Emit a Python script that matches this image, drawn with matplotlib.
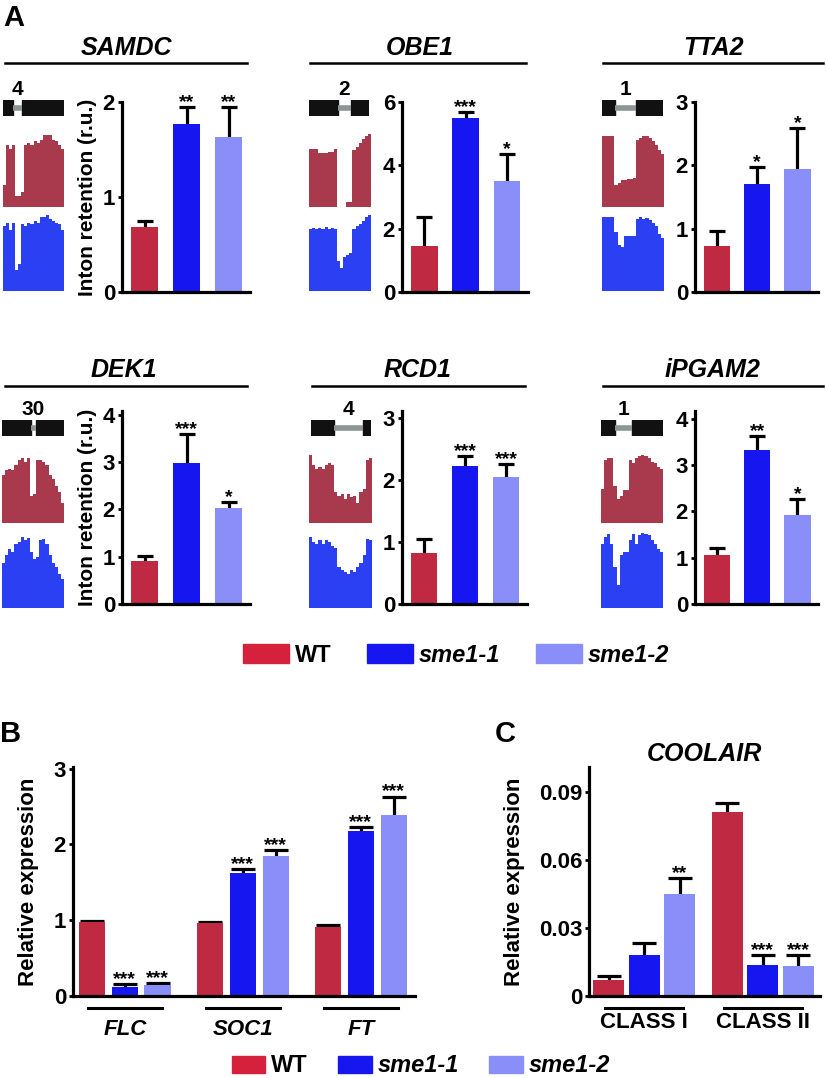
import numpy as np
import matplotlib
matplotlib.use('Agg')
from matplotlib import pyplot as plt
from matplotlib.patches import Patch, Rectangle
from matplotlib.lines import Line2D

plt.rcParams['font.family'] = ['Liberation Sans', 'DejaVu Sans']
plt.rcParams['font.weight'] = 'bold'

# ---- panel A data ----
genes_A = ['SAMDC', 'OBE1', 'TTA2', 'DEK1', 'RCD1', 'iPGAM2']
wt_A = [0.68, 1.45, 0.72, 0.91, 0.82, 1.06]
wt_A_err = [0.07, 0.91, 0.24, 0.11, 0.23, 0.16]
sme11_A = [1.77, 5.49, 1.70, 2.98, 2.23, 3.33]
sme11_A_err = [0.18, 0.19, 0.27, 0.62, 0.15, 0.29]
sme12_A = [1.63, 3.51, 1.95, 2.02, 2.05, 1.93]
sme12_A_err = [0.32, 0.86, 0.64, 0.13, 0.20, 0.33]
stars_A = [['', '**', '**'], ['', '***', '*'], ['', '*', '*'],
           ['', '***', '*'], ['', '***', '***'], ['', '**', '*']]
yticks_A = [[0, 1, 2], [0, 2, 4, 6], [0, 1, 2, 3],
            [0, 1, 2, 3, 4], [0, 1, 2, 3], [0, 1, 2, 3, 4]]
ytop_A = [2.0, 6.0, 3.0, 4.08, 3.11, 4.17]

# intron number and exon layout of the gene models (fraction of model width)
intron_no = ['4', '2', '1', '30', '4', '1']
exon1_end = [0.16, 0.48, 0.21, 0.47, 0.38, 0.23]
exon2_start = [0.31, 0.70, 0.56, 0.55, 0.87, 0.50]

# RNA-seq coverage profiles (relative height, 20 bins)
cov_wt = [
    [0.30, 0.85, 0.80, 0.85, 0.15, 0.15, 0.20, 0.85, 0.88, 0.85, 0.90, 0.88, 0.92, 0.98, 0.98, 0.98, 0.92, 0.90, 0.85, 0.80],
    [0.80, 0.80, 0.80, 0.74, 0.74, 0.74, 0.75, 0.76, 0.80, 0.00, 0.00, 0.00, 0.07, 0.07, 0.78, 0.82, 0.88, 0.93, 0.97, 1.00],
    [0.97, 0.97, 0.97, 0.97, 0.30, 0.33, 0.37, 0.37, 0.38, 0.38, 0.40, 0.92, 0.95, 0.97, 0.97, 0.95, 0.90, 0.85, 0.78, 0.73],
    [0.70, 0.78, 0.80, 0.78, 0.85, 0.92, 0.95, 0.90, 0.95, 0.40, 0.42, 0.92, 0.93, 0.90, 0.85, 0.70, 0.65, 0.55, 0.45, 0.30],
    [1.00, 0.85, 0.80, 0.82, 0.80, 0.85, 0.88, 0.85, 0.45, 0.40, 0.42, 0.35, 0.42, 0.38, 0.40, 0.30, 0.45, 0.50, 0.92, 0.95],
    [0.50, 0.92, 0.95, 0.95, 0.55, 0.35, 0.40, 0.48, 0.48, 0.92, 0.88, 0.95, 0.98, 1.00, 0.98, 0.95, 0.90, 0.88, 0.82, 0.80],
]
cov_mut = [
    [0.85, 0.90, 0.80, 0.90, 0.27, 0.35, 0.88, 0.85, 0.90, 0.88, 0.92, 0.90, 0.98, 0.98, 1.00, 0.95, 0.92, 0.90, 0.88, 0.80],
    [0.82, 0.83, 0.82, 0.83, 0.82, 0.84, 0.82, 0.83, 0.82, 0.40, 0.30, 0.45, 0.48, 0.50, 0.82, 0.85, 0.88, 0.92, 0.98, 1.00],
    [0.97, 0.98, 0.98, 0.97, 0.78, 0.60, 0.58, 0.72, 0.72, 0.72, 0.72, 0.95, 0.97, 0.95, 0.96, 0.93, 0.90, 0.85, 0.75, 0.70],
    [0.60, 0.70, 0.78, 0.75, 0.85, 0.88, 0.95, 0.90, 0.93, 0.75, 0.65, 0.68, 0.90, 0.92, 0.85, 0.70, 0.60, 0.55, 0.45, 0.38],
    [0.95, 0.88, 0.85, 0.90, 0.85, 0.90, 0.88, 0.82, 0.80, 0.55, 0.50, 0.48, 0.45, 0.50, 0.48, 0.55, 0.60, 0.70, 0.92, 0.90],
    [0.85, 0.95, 0.98, 0.85, 0.55, 0.30, 0.70, 0.75, 0.75, 0.90, 0.98, 0.85, 0.97, 1.00, 0.98, 0.97, 0.90, 0.85, 0.78, 0.75],
]

# ---- panel B data ----
genes_B = ['FLC', 'SOC1', 'FT']
wt_B = [0.98, 0.96, 0.91]
wt_B_err = [0.01, 0.02, 0.03]
sme11_B = [0.12, 1.62, 2.18]
sme11_B_err = [0.04, 0.06, 0.05]
sme12_B = [0.145, 1.85, 2.39]
sme12_B_err = [0.03, 0.08, 0.24]
stars_B = [['', '***', '***'], ['', '***', '***'], ['', '***', '***']]

# ---- panel C data ----
classes_C = ['CLASS I', 'CLASS II']
wt_C = [0.0071, 0.081]
wt_C_err = [0.0017, 0.004]
sme11_C = [0.018, 0.0137]
sme11_C_err = [0.0054, 0.0043]
sme12_C = [0.045, 0.0132]
sme12_C_err = [0.007, 0.0048]
stars_C = [['', '', '**'], ['', '***', '***']]

genotypes = ['WT', 'sme1-1', 'sme1-2']
bar_colors = ['#BF2A42', '#1616F0', '#8A8EF8']
leg_colors = ['#D6213D', '#1616F0', '#8A8EF8']
track_red = '#A93A4E'
track_blue = '#2A40F2'
intron_grey = '#8C9494'

W, H = 826, 1078
fig = plt.figure(figsize=(W / 100, H / 100), dpi=100)


def box(l, t, r, b):
    return [l / W, 1 - b / H, (r - l) / W, (b - t) / H]


def style_axis(ax, ticks, top, fs=16):
    for s in ['top', 'right']:
        ax.spines[s].set_visible(False)
    for s in ['left', 'bottom']:
        ax.spines[s].set_linewidth(2.3)
    ax.set_ylim(0, top)
    ax.set_yticks(ticks)
    ax.set_xticks([])
    ax.tick_params(axis='y', length=3, width=2, pad=2, labelsize=fs)


def bars(ax, pos, vals, errs, color, stars, width, capsize):
    ax.bar(pos, vals, width=width, color=color, zorder=2)
    eb = ax.errorbar(pos, vals, yerr=[np.zeros(len(vals)), errs], fmt='none',
                     ecolor='black', elinewidth=2.3, capsize=capsize, capthick=2.3, zorder=1)
    # one-sided bars: hide the lower cap sitting on the bar top
    eb[1][0].set_visible(False)
    for p, v, e, s in zip(pos, vals, errs, stars):
        if s:
            ax.annotate(s, (p, v + e), xytext=(0, 0), textcoords='offset points',
                        ha='center', va='baseline', fontsize=14, fontweight='bold')


# ---------------- panel A ----------------
bar_boxes = [(122, 102, 250, 292), (402, 102, 528, 292), (695, 102, 818, 292),
             (122, 411, 250, 604), (402, 411, 527, 604), (695, 411, 818, 604)]
track_x = [(3, 64), (309, 371), (602, 664), (2, 64), (309, 372), (601, 663)]
model_x = [(3, 64), (309, 369), (602, 663), (2, 64), (311, 371), (601, 663)]
title_x = [126, 420, 713, 124, 418, 713]
line_x = [(5, 247), (310, 526), (603, 823), (5, 247), (312, 525), (603, 823)]

for i, g in enumerate(genes_A):
    row = i // 3
    l, t, r, b = bar_boxes[i]
    ax = fig.add_axes(box(l, t, r, b))
    x = np.arange(3)
    for j, (vals, errs) in enumerate([(wt_A, wt_A_err), (sme11_A, sme11_A_err), (sme12_A, sme12_A_err)]):
        bars(ax, [x[j]], [vals[i]], [errs[i]], bar_colors[j], [stars_A[i][j]], 0.65, 5.5)
    ax.set_xlim(-0.54, 2.51)
    style_axis(ax, yticks_A[i], ytop_A[i])
    if i % 3 == 0:
        ax.set_ylabel('Inton retention (r.u.)', fontsize=15, fontweight='bold')
        ax.yaxis.set_label_coords(-0.195, 0.5)

    # gene title with rule
    ty, ly = (48, 63) if row == 0 else (370, 386)
    fig.text(title_x[i] / W, 1 - ty / H, g, fontsize=18, fontweight='bold',
             style='italic', ha='center', va='center')
    fig.add_artist(Line2D([line_x[i][0] / W, line_x[i][1] / W], [1 - ly / H, 1 - ly / H],
                          color='black', lw=1.8))

    # gene model
    my = (100, 116) if row == 0 else (420, 436)
    gm = fig.add_axes(box(model_x[i][0], my[0], model_x[i][1], my[1]))
    gm.set_xlim(0, 1)
    gm.set_ylim(0, 1)
    gm.axis('off')
    gm.plot([exon1_end[i], exon2_start[i]], [0.5, 0.5], color=intron_grey, lw=4,
            solid_capstyle='butt')
    gm.add_patch(Rectangle((0, 0), exon1_end[i], 1, color='#111111'))
    gm.add_patch(Rectangle((exon2_start[i], 0), 1 - exon2_start[i], 1, color='#111111'))
    gm.annotate(intron_no[i], ((exon1_end[i] + exon2_start[i]) / 2, 1), xytext=(0, 1),
                textcoords='offset points', ha='center', va='bottom',
                fontsize=15, fontweight='bold', annotation_clip=False)

    # coverage tracks
    ry = (134, 207) if row == 0 else (455, 523)
    by = (215, 291) if row == 0 else (533, 608)
    for cov, yy, col in [(cov_wt[i], ry, track_red), (cov_mut[i], by, track_blue)]:
        ta = fig.add_axes(box(track_x[i][0], yy[0], track_x[i][1], yy[1]))
        edges = np.arange(len(cov) + 1)
        ta.fill_between(edges, np.r_[cov, cov[-1]], step='post', color=col, lw=0)
        ta.set_xlim(0, len(cov))
        ta.set_ylim(0, 1)
        ta.axis('off')

fig.text(3 / W, 1 - 18 / H, 'A', fontsize=21, fontweight='bold', va='center')

leg = fig.legend([Patch(color=c) for c in leg_colors], genotypes, loc='center',
                 bbox_to_anchor=(456 / W, 1 - 655 / H), ncol=3, frameon=False,
                 fontsize=17, handlelength=1.95, handleheight=0.85,
                 handletextpad=0.25, columnspacing=1.5)
for t in leg.get_texts()[1:]:
    t.set_style('italic')

# ---------------- panel B ----------------
axB = fig.add_axes(box(73, 767, 415, 996))
gB = np.arange(len(genes_B)) * 3.6
for j, (vals, errs) in enumerate([(wt_B, wt_B_err), (sme11_B, sme11_B_err), (sme12_B, sme12_B_err)]):
    bars(axB, gB + j - 1, vals, errs, bar_colors[j], [s[j] for s in stars_B], 0.8, 8.5)
axB.set_xlim(-1.58, 8.85)
style_axis(axB, [0, 1, 2, 3], 3.02)
axB.set_ylabel('Relative expression', fontsize=16, fontweight='bold')
axB.yaxis.set_label_coords(-0.099, 0.5)
for c, name in zip(gB, genes_B):
    axB.plot([c - 1.13, c + 1.13], [-0.053, -0.053], color='black', lw=2.2,
             transform=axB.get_xaxis_transform(), clip_on=False)
    axB.text(c, -0.172, name, transform=axB.get_xaxis_transform(), ha='center',
             va='baseline', fontsize=16, fontweight='bold', style='italic')
fig.text(0 / W, 1 - 734 / H, 'B', fontsize=21, fontweight='bold', va='center')

# ---------------- panel C ----------------
axC = fig.add_axes(box(589, 767, 820, 996))
gC = np.arange(len(classes_C)) * 3.34
for j, (vals, errs) in enumerate([(wt_C, wt_C_err), (sme11_C, sme11_C_err), (sme12_C, sme12_C_err)]):
    bars(axC, gC + j - 1, vals, errs, bar_colors[j], [s[j] for s in stars_C], 0.87, 8.5)
axC.set_xlim(-1.56, 4.95)
style_axis(axC, [0, 0.03, 0.06, 0.09], 0.101)
axC.set_yticklabels(['0', '0.03', '0.06', '0.09'])
axC.set_ylabel('Relative expression', fontsize=16, fontweight='bold')
axC.yaxis.set_label_coords(-0.277, 0.5)
for c, name in zip(gC, classes_C):
    axC.plot([c - 1.1, c + 1.1], [-0.053, -0.053], color='black', lw=2.2,
             transform=axC.get_xaxis_transform(), clip_on=False)
    axC.text(c, -0.14, name, transform=axC.get_xaxis_transform(), ha='center',
             va='baseline', fontsize=16, fontweight='bold')
axC.set_title('COOLAIR', fontsize=18, fontweight='bold', style='italic', pad=4)
fig.text(495 / W, 1 - 734 / H, 'C', fontsize=21, fontweight='bold', va='center')

legB = fig.legend([Patch(color=c) for c in leg_colors], genotypes, loc='center',
                  bbox_to_anchor=(421 / W, 1 - 1066 / H), ncol=3, frameon=False,
                  fontsize=17, handlelength=1.4, handleheight=0.72,
                  handletextpad=0.25, columnspacing=1.3)
for t in legB.get_texts()[1:]:
    t.set_style('italic')

fig.savefig('out.png', dpi=100)
